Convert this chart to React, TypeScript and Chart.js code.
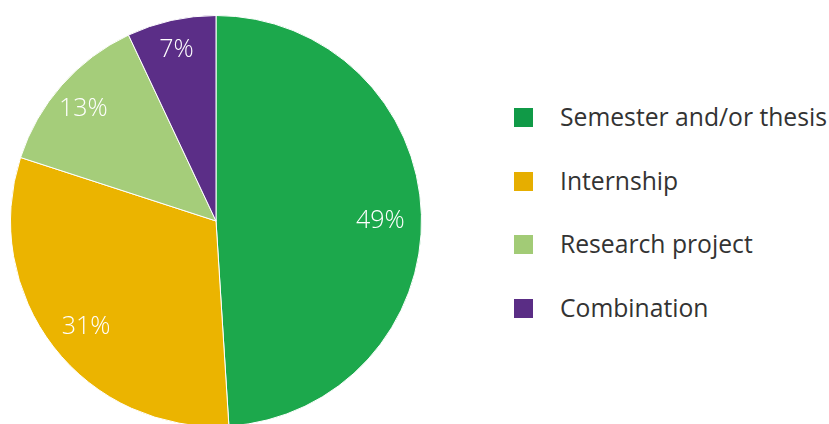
import React, { useEffect, useRef } from "react";
import { Chart, registerables } from "chart.js";

Chart.register(...registerables);

const categories = ["Semester and/or thesis", "Internship", "Research project", "Combination"];
const values = [49, 31, 13, 7];
const sliceColors = ["#1ca84c", "#ebb400", "#a5cd7a", "#5b2e87"];
const legendColors = ["#109a47", "#e6ae00", "#a2cb76", "#5a2d85"];
const labelRadius = [0.8, 0.8, 0.86, 0.88];

const labelPlugin = {
  id: "sliceLabels",
  afterDatasetsDraw(chart: any) {
    const ctx = chart.ctx;
    const meta = chart.getDatasetMeta(0);
    ctx.save();
    ctx.fillStyle = "#ffffff";
    ctx.font = "300 25px 'Open Sans', sans-serif";
    ctx.textAlign = "center";
    ctx.textBaseline = "middle";
    meta.data.forEach((arc: any, i: number) => {
      const p = arc.getProps(["x", "y", "startAngle", "endAngle", "outerRadius"], true);
      const mid = (p.startAngle + p.endAngle) / 2;
      const r = p.outerRadius * labelRadius[i];
      ctx.fillText(values[i] + "%", p.x + Math.cos(mid) * r, p.y + Math.sin(mid) * r + 5);
    });
    ctx.restore();
  },
};

export default function App() {
  const ref = useRef<HTMLCanvasElement | null>(null);
  useEffect(() => {
    if (!ref.current) return;
    const chart = new Chart(ref.current, {
      type: "pie",
      data: {
        labels: categories,
        datasets: [
          {
            data: values,
            backgroundColor: sliceColors,
            borderColor: "#ffffff",
            borderWidth: 1,
          },
        ],
      },
      options: {
        animation: false,
        responsive: false,
        maintainAspectRatio: false,
        layout: { padding: { left: 10, top: 15, right: 10, bottom: 15 } },
        plugins: { legend: { display: false }, tooltip: { enabled: false } },
      },
      plugins: [labelPlugin],
    });
    return () => chart.destroy();
  }, []);

  const legendY = [117, 181, 244, 308];
  return (
    <div style={{ position: "fixed", left: 0, top: 0, width: 829, height: 424, background: "#fff", overflow: "hidden" }}>
      <canvas ref={ref} width={432} height={442} style={{ position: "absolute", left: 0, top: 0, width: 432, height: 442 }} />
      {categories.map((c, i) => (
        <div key={c}>
          <div
            style={{
              position: "absolute",
              left: 514,
              top: legendY[i] - 9,
              width: 19,
              height: 19,
              background: legendColors[i],
            }}
          />
          <div
            style={{
              position: "absolute",
              left: 560,
              top: legendY[i] - 18,
              height: 36,
              lineHeight: "36px",
              fontFamily: "'Open Sans', sans-serif",
              fontSize: 24.7,
              color: "#333333",
              whiteSpace: "nowrap",
            }}
          >
            {c}
          </div>
        </div>
      ))}
    </div>
  );
}
